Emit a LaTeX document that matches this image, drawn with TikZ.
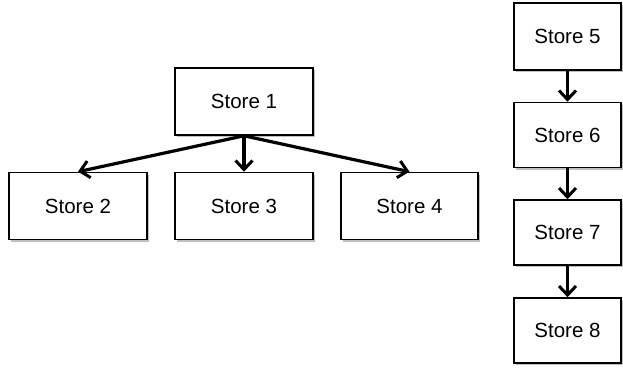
\documentclass[tikz,border=0pt]{standalone}
\usepackage{fontspec}
\setmainfont{Liberation Sans}
\usetikzlibrary{arrows.meta,shadows}
\tikzset{
    storebox/.style={draw, line width=1.6pt, fill=white, minimum width=138pt, minimum height=67pt,
        inner sep=0pt, font=\fontsize{20.5}{24}\selectfont,
        drop shadow={shadow xshift=2pt, shadow yshift=-2pt, opacity=0.25, fill=black}},
    link/.style={line width=3.2pt, -{Straight Barb[length=9pt, width=17pt, line width=3pt]}}
}
\begin{document}
\begin{tikzpicture}[x=1pt, y=-1pt]
        \useasboundingbox (0,0) rectangle (623,368);
        % tree
        \node[storebox] (s1) at (244,101.5) {Store 1};
        \node[storebox] (s2) at (78,206) {Store 2};
        \node[storebox] (s3) at (244,206) {Store 3};
        \node[storebox, minimum width=137pt] (s4) at (409.5,206) {Store 4};
        \draw[link] (s1.south) -- (s2.north);
        \draw[link] (s1.south) -- (s3.north);
        \draw[link] (s1.south) -- (s4.north);
        % chain
        \node[storebox, minimum width=107pt] (s5) at (567.5,36.5) {Store 5};
        \node[storebox, minimum width=107pt, minimum height=65pt] (s6) at (567.5,135) {Store 6};
        \node[storebox, minimum width=107pt, minimum height=65pt] (s7) at (567.5,232.5) {Store 7};
        \node[storebox, minimum width=107pt, minimum height=65pt] (s8) at (567.5,330.5) {Store 8};
        \foreach \a/\b in {s5/s6, s6/s7, s7/s8}
            \draw[link] (\a.south) -- (\b.north);
    \end{tikzpicture}
\end{document}
